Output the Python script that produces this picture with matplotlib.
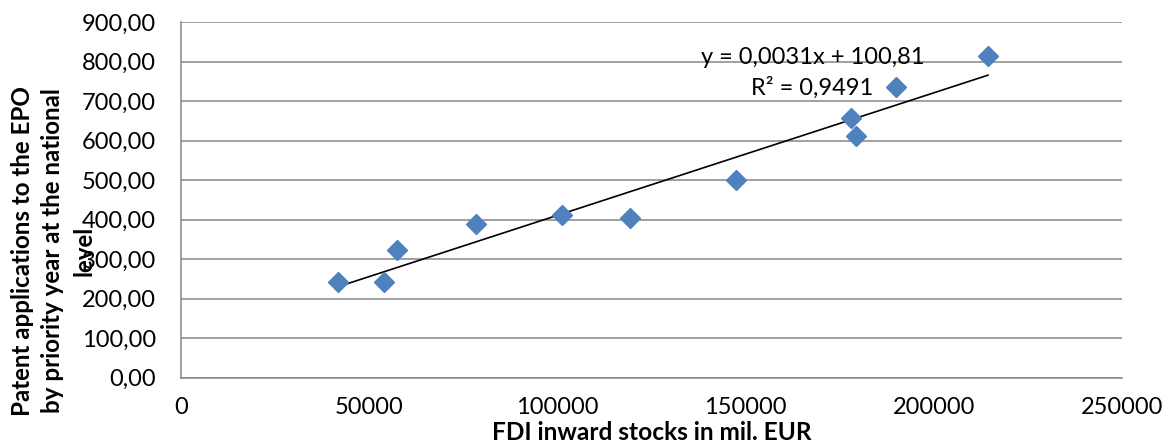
import matplotlib
matplotlib.use("Agg")
import matplotlib.pyplot as plt
import numpy as np
from matplotlib.ticker import FuncFormatter, MultipleLocator

# FDI inward stocks (mil. EUR) vs. EPO patent applications
fdi_stocks = [41800, 54000, 57300, 78300, 101300, 119400, 147400,
              178000, 179300, 189900, 214400]
patent_apps = [243, 242, 323, 390, 412, 404, 500, 656, 612, 736, 814]

# linear trendline as reported on the chart
slope = 0.0031
intercept = 100.81
r_squared = 0.9491

x_ticks = [0, 50000, 100000, 150000, 200000, 250000]


def fit_text(txt, length_px, vertical=False):
    """Rescale a text so that its extent spans length_px pixels."""
    bbox = txt.get_window_extent(fig.canvas.get_renderer())
    size = bbox.height if vertical else bbox.width
    txt.set_fontsize(txt.get_fontsize() * length_px / size)


plt.rcParams['font.family'] = ['Lato', 'DejaVu Sans']

fig = plt.figure(figsize=(11.7, 4.46), dpi=100)
ax = fig.add_axes([181 / 1170, 1 - 377.7 / 446, 941 / 1170, 355.7 / 446])

grid_color = '#868686'
ax.set_xlim(0, 250000)
ax.set_ylim(0, 900)
ax.yaxis.set_major_locator(MultipleLocator(100))
ax.set_xticks(x_ticks)
ax.yaxis.set_major_formatter(
    FuncFormatter(lambda v, pos: f"{v:.2f}".replace('.', ',')))
ax.xaxis.set_major_formatter(FuncFormatter(lambda v, pos: f"{int(v)}"))
ax.grid(axis='y', color=grid_color, lw=1.1)
ax.set_axisbelow(True)
for side in ('top', 'right'):
    ax.spines[side].set_visible(False)
for side in ('left', 'bottom'):
    ax.spines[side].set_color(grid_color)
    ax.spines[side].set_linewidth(1.1)
ax.tick_params(length=0, labelsize=17)
ax.tick_params(axis='y', pad=18)
ax.tick_params(axis='x', pad=14)

ax.plot(fdi_stocks, patent_apps, ls='none', marker='D', ms=10.5,
        color='#4F81BD', zorder=3)

xs = np.array([min(fdi_stocks), max(fdi_stocks)])
ax.plot(xs, slope * xs + intercept, color='black', lw=1.2, zorder=2)

ax.text(813 / 1170, 1 - 57 / 446, "y = 0,0031x + 100,81",
        transform=fig.transFigure, ha='center', va='center', fontsize=17)
ax.text(812 / 1170, 1 - 88 / 446, f"R² = {r_squared}".replace('.', ','),
        transform=fig.transFigure, ha='center', va='center', fontsize=17)

xlab = fig.text(652 / 1170, 1 - 432 / 446, "FDI inward stocks in mil. EUR",
                ha='center', va='center', fontsize=15, fontweight='bold')
ylab = fig.text(53 / 1170, 1 - 251 / 446,
                "Patent applications to the EPO\n"
                "by priority year at the national\nlevel",
                ha='center', va='center', rotation=90, fontsize=15,
                fontweight='bold', linespacing=1.4)
fit_text(xlab, 320)
fit_text(ylab, 332, vertical=True)

fig.savefig('out.png', dpi=100)
